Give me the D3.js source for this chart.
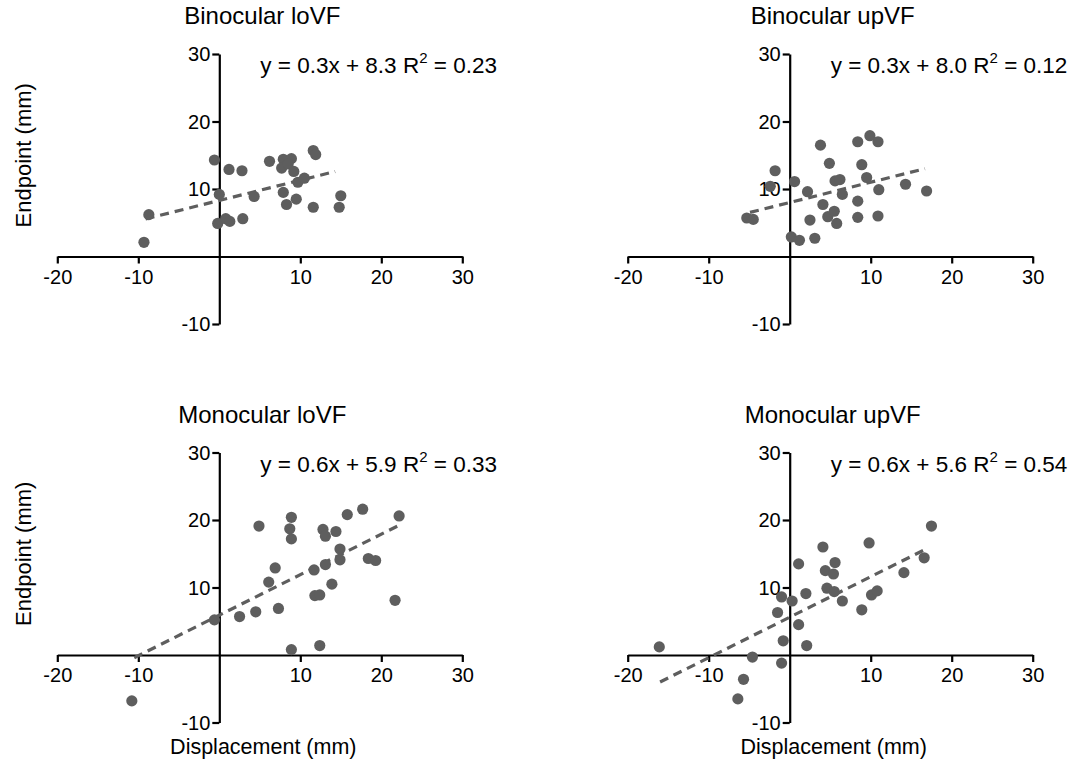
<!DOCTYPE html>
<html>
<head>
<meta charset="utf-8">
<script src="https://cdn.jsdelivr.net/npm/d3@7"></script>
<style>
  body { margin: 0; background: #fff; }
  svg text { font-family: "Liberation Sans", Arial, sans-serif; fill: #000; }
</style>
</head>
<body>
<div id="chart"></div>
<script>
// tick labels (0 is not labelled on either axis)
const xTicks = [-20, -10, 10, 20, 30];
const yTicks = [30, 20, 10, -10];

const titles = ["Binocular loVF", "Binocular upVF", "Monocular loVF", "Monocular upVF"];

// Binocular loVF
const binLoX = [-9.3, -8.7, -0.6, 0.0, -0.2, 0.8, 1.3, 1.2, 2.8, 2.9, 4.3, 6.2, 7.9, 7.7, 8.9, 8.5, 9.2, 7.9, 8.3, 9.5, 9.7, 10.5, 11.6, 11.9, 11.6, 14.8, 15.0];
const binLoY = [2.1, 6.2, 14.3, 9.2, 4.9, 5.6, 5.2, 12.9, 12.7, 5.6, 8.9, 14.1, 14.4, 13.1, 14.5, 13.7, 12.6, 9.5, 7.7, 8.5, 11.0, 11.6, 15.7, 15.1, 7.3, 7.3, 9.0];

// Binocular upVF
const binUpX = [-5.3, -4.5, -2.4, -1.8, 0.6, 0.2, 1.2, 2.2, 2.5, 3.1, 3.8, 4.1, 4.9, 4.7, 5.5, 5.6, 6.2, 5.8, 6.5, 8.4, 8.9, 9.5, 8.4, 8.4, 9.9, 10.9, 11.0, 10.9, 14.3, 16.9];
const binUpY = [5.7, 5.5, 10.4, 12.7, 11.1, 2.9, 2.4, 9.6, 5.4, 2.7, 16.5, 7.7, 13.8, 5.9, 6.7, 11.2, 11.4, 4.9, 9.2, 17.0, 13.6, 11.7, 8.2, 5.8, 17.9, 17.0, 9.9, 6.0, 10.7, 9.7];

// Monocular loVF
const monLoX = [-10.8, -0.6, 2.5, 4.5, 4.9, 6.1, 6.9, 7.3, 8.7, 8.9, 8.9, 8.9, 11.7, 11.8, 12.4, 12.4, 12.8, 13.1, 13.1, 13.9, 14.4, 14.9, 14.9, 15.8, 17.7, 18.4, 19.3, 21.7, 22.2];
const monLoY = [-6.8, 5.2, 5.7, 6.4, 19.1, 10.8, 12.9, 6.9, 18.7, 17.2, 20.4, 0.8, 12.6, 8.8, 8.9, 1.4, 18.6, 17.6, 13.4, 10.5, 18.3, 15.7, 14.1, 20.8, 21.6, 14.3, 14.0, 8.1, 20.6];

// Monocular upVF
const monUpX = [-16.1, -6.4, -5.7, -4.6, -1.5, -1.0, 0.3, -0.8, -1.0, 1.1, 1.1, 2.0, 2.1, 4.1, 4.4, 4.6, 5.4, 5.6, 5.5, 6.5, 8.9, 9.8, 10.1, 10.8, 14.1, 16.6, 17.5];
const monUpY = [1.2, -6.5, -3.6, -0.3, 6.3, 8.6, 8.0, 2.1, -1.2, 13.5, 4.5, 9.1, 1.4, 16.0, 12.5, 9.9, 12.0, 13.7, 9.4, 8.0, 6.7, 16.6, 8.9, 9.5, 12.2, 14.4, 19.1];

// fitted lines: slope, intercept, R2 and the x range they cover
const slopes = [0.3, 0.3, 0.6, 0.6];
const intercepts = [8.3, 8.0, 5.9, 5.6];
const r2s = ["0.23", "0.12", "0.33", "0.54"];
const fitFrom = [-9.1, -4.9, -10.5, -16.0];
const fitTo = [14.3, 16.7, 22.3, 16.9];

const xs = [binLoX, binUpX, monLoX, monUpX];
const ys = [binLoY, binUpY, monLoY, monUpY];

const width = 1078, height = 761;
const grey = "#5e5e5e";

const svg = d3.select("#chart").append("svg")
  .attr("width", width)
  .attr("height", height);

// panel origins: left of x axis (x=-20) and top of y axis (y=30)
const lefts = [57.3, 627.7, 57.3, 627.7];
const tops = [54, 54, 452.5, 452.5];
const pw = 405, ph = 270;

titles.forEach((title, i) => {
  const x = d3.scaleLinear().domain([-20, 30]).range([lefts[i], lefts[i] + pw]);
  const y = d3.scaleLinear().domain([-10, 30]).range([tops[i] + ph, tops[i]]);
  const g = svg.append("g");

  // x axis through y = 0 (plain hyphen for negatives, like the original)
  const xa = g.append("g")
    .attr("transform", `translate(0, ${y(0)})`)
    .call(d3.axisBottom(x).tickValues(xTicks).tickSize(7).tickSizeOuter(0).tickPadding(6).tickFormat(d => String(d)));

  // y axis through x = 0
  const ya = g.append("g")
    .attr("transform", `translate(${x(0)}, 0)`)
    .call(d3.axisLeft(y).tickValues(yTicks).tickSize(7).tickSizeOuter(0).tickPadding(2).tickFormat(d => String(d)));

  [xa, ya].forEach(a => {
    a.select(".domain").attr("stroke", "#000").attr("stroke-width", 2.2);
    a.selectAll(".tick line").attr("stroke", "#000").attr("stroke-width", 2.2);
    a.selectAll(".tick text").style("font-size", "20px").attr("fill", "#000");
  });
  ya.selectAll(".tick text").attr("dy", "0.34em");

  // regression line
  g.append("line")
    .attr("x1", x(fitFrom[i]))
    .attr("y1", y(slopes[i] * fitFrom[i] + intercepts[i]))
    .attr("x2", x(fitTo[i]))
    .attr("y2", y(slopes[i] * fitTo[i] + intercepts[i]))
    .attr("stroke", grey)
    .attr("stroke-width", 3.2)
    .attr("stroke-dasharray", "9,6");

  // points
  g.append("g")
    .selectAll("circle")
    .data(xs[i].map((v, k) => ({x: v, y: ys[i][k]})))
    .join("circle")
      .attr("cx", d => x(d.x))
      .attr("cy", d => y(d.y))
      .attr("r", 5.6)
      .attr("fill", grey);

  // title
  g.append("text")
    .attr("x", x(0) + 43)
    .attr("y", tops[i] - 30)
    .attr("text-anchor", "middle")
    .style("font-size", "24px")
    .text(title);

  // equation
  const eq = g.append("text")
    .attr("x", x(0) + 41)
    .attr("y", tops[i] + 19)
    .style("font-size", "22.5px");
  eq.append("tspan").text(`y = ${slopes[i].toFixed(1)}x + ${intercepts[i].toFixed(1)} R`);
  eq.append("tspan").attr("dy", -10).style("font-size", "15px").text("2");
  eq.append("tspan").attr("dy", 10).text(` = ${r2s[i]}`);

  // axis titles
  if (i % 2 === 0) {
    g.append("text")
      .attr("transform", `translate(${lefts[i] - 26}, ${(y(0) + y(30)) / 2}) rotate(-90)`)
      .attr("text-anchor", "middle")
      .style("font-size", "22px")
      .text("Endpoint (mm)");
  }
  if (i >= 2) {
    g.append("text")
      .attr("x", x(0) + 44)
      .attr("y", tops[i] + ph + 31)
      .attr("text-anchor", "middle")
      .style("font-size", "21.5px")
      .text("Displacement (mm)");
  }
});
</script>
</body>
</html>
